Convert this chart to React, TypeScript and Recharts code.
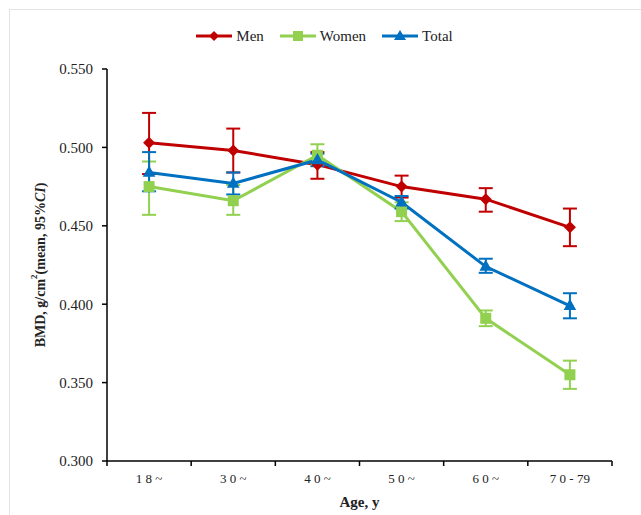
import React from "react";
import { LineChart, Line, XAxis, YAxis, ErrorBar } from "recharts";

const categories = ["18~", "30~", "40~", "50~", "60~", "70-79"];
const tickLabels = ["1 8 ~", "3 0 ~", "4 0 ~", "5 0 ~", "6 0 ~", "7 0 - 79"];

const menMean = [0.503, 0.498, 0.489, 0.475, 0.467, 0.449];
const menLow = [0.483, 0.484, 0.48, 0.468, 0.459, 0.437];
const menHigh = [0.522, 0.512, 0.497, 0.482, 0.474, 0.461];

const womenMean = [0.475, 0.466, 0.495, 0.459, 0.391, 0.355];
const womenLow = [0.457, 0.457, 0.489, 0.453, 0.386, 0.346];
const womenHigh = [0.491, 0.476, 0.502, 0.465, 0.396, 0.364];

const totalMean = [0.484, 0.477, 0.492, 0.465, 0.424, 0.399];
const totalLow = [0.472, 0.47, 0.488, 0.461, 0.42, 0.391];
const totalHigh = [0.497, 0.484, 0.496, 0.469, 0.429, 0.407];

const yTicks = [0.3, 0.35, 0.4, 0.45, 0.5, 0.55];

const MEN = "#C00000";
const WOMEN = "#92D050";
const TOTAL = "#0070C0";
const FONT = "'Liberation Serif', 'Times New Roman', serif";

const CHART_W = 641;
const CHART_H = 515;
const MARGIN = { top: 69, right: 29, bottom: 0, left: 0 };
const Y_AXIS_W = 107;
const BAND = (CHART_W - MARGIN.right - MARGIN.left - Y_AXIS_W) / categories.length;

const data = categories.map((c, i) => ({
  cat: c,
  men: menMean[i],
  menErr: [menMean[i] - menLow[i], menHigh[i] - menMean[i]],
  women: womenMean[i],
  womenErr: [womenMean[i] - womenLow[i], womenHigh[i] - womenMean[i]],
  total: totalMean[i],
  totalErr: [totalMean[i] - totalLow[i], totalHigh[i] - totalMean[i]],
}));

const Diamond = (props: any) => {
  const { cx, cy, index } = props;
  if (cx == null || cy == null) return <g key={`d${index}`} />;
  const r = 6;
  return (
    <path
      key={`d${index}`}
      d={`M${cx},${cy - r}L${cx + r},${cy}L${cx},${cy + r}L${cx - r},${cy}Z`}
      fill={MEN}
    />
  );
};

const Square = (props: any) => {
  const { cx, cy, index } = props;
  if (cx == null || cy == null) return <g key={`s${index}`} />;
  const r = 5.5;
  return <rect key={`s${index}`} x={cx - r} y={cy - r} width={2 * r} height={2 * r} fill={WOMEN} />;
};

const Triangle = (props: any) => {
  const { cx, cy, index } = props;
  if (cx == null || cy == null) return <g key={`t${index}`} />;
  const r = 7;
  return (
    <path
      key={`t${index}`}
      d={`M${cx},${cy - r}L${cx + r * 0.9},${cy + r * 0.6}L${cx - r * 0.9},${cy + r * 0.6}Z`}
      fill={TOTAL}
    />
  );
};

const XTick = (props: any) => {
  const { x, y, payload, index } = props;
  const last = index === categories.length - 1;
  return (
    <g>
      <line x1={x - BAND / 2} x2={x - BAND / 2} y1={y - 5} y2={y} stroke="#000" strokeWidth={1.5} />
      {last && <line x1={x + BAND / 2} x2={x + BAND / 2} y1={y - 5} y2={y} stroke="#000" strokeWidth={1.5} />}
      <text x={x} y={y} dy={17} textAnchor="middle" fontFamily={FONT} fontSize={13} fill="#222">
        {tickLabels[index] ?? payload.value}
      </text>
    </g>
  );
};

const legendItems = [
  { name: "Men", color: MEN, shape: "diamond" },
  { name: "Women", color: WOMEN, shape: "square" },
  { name: "Total", color: TOTAL, shape: "triangle" },
];

const LegendBox = () => (
  <div
    style={{
      position: "absolute",
      left: 0,
      top: 26,
      width: CHART_W,
      display: "flex",
      justifyContent: "center",
      alignItems: "center",
      fontFamily: FONT,
      fontSize: 15,
      color: "#222",
      lineHeight: "20px",
      paddingLeft: 8,
      boxSizing: "border-box",
    }}
  >
    {legendItems.map((it, i) => (
      <div key={it.name} style={{ display: "flex", alignItems: "center", marginLeft: i === 0 ? 0 : 16 }}>
        <svg width={36} height={12} style={{ marginRight: 4 }}>
          <line x1={0} y1={6} x2={36} y2={6} stroke={it.color} strokeWidth={3} />
          {it.shape === "diamond" && <path d="M18,1L23,6L18,11L13,6Z" fill={it.color} />}
          {it.shape === "square" && <rect x={13} y={1} width={10} height={10} fill={it.color} />}
          {it.shape === "triangle" && <path d="M18,0L24,10L12,10Z" fill={it.color} />}
        </svg>
        <span>{it.name}</span>
      </div>
    ))}
  </div>
);

export default function App() {
  return (
    <div style={{ position: "absolute", left: 0, top: 0, width: CHART_W, height: CHART_H, background: "#fff", overflow: "hidden" }}>
      <div
        style={{
          position: "absolute",
          left: 9,
          top: 9,
          width: 640,
          height: 515,
          borderLeft: "1px solid #e4e4e4",
          borderTop: "1px solid #e4e4e4",
        }}
      />
      <LineChart
        width={CHART_W}
        height={CHART_H}
        data={data}
        margin={MARGIN}
        style={{ position: "absolute", left: 0, top: 0 }}
      >
        <XAxis
          dataKey="cat"
          scale="band"
          height={54}
          axisLine={{ stroke: "#000", strokeWidth: 1.5 }}
          tickLine={false}
          tickSize={5}
          tickMargin={0}
          tick={<XTick />}
          interval={0}
          label={{
            value: "Age, y",
            position: "insideBottom",
            offset: 8,
            fontFamily: FONT,
            fontSize: 15,
            fontWeight: "bold",
            fill: "#222",
          }}
        />
        <YAxis
          width={Y_AXIS_W}
          domain={[0.3, 0.55]}
          ticks={yTicks}
          interval={0}
          tickFormatter={(v: number) => v.toFixed(3)}
          axisLine={{ stroke: "#000", strokeWidth: 1.5 }}
          tickLine={{ stroke: "#000", strokeWidth: 1.5 }}
          tickSize={5}
          tickMargin={9}
          tick={{ fontFamily: FONT, fontSize: 15, fill: "#222" }}
          label={(props: any) => {
            const vb = props.viewBox || {};
            const cx = 40;
            const cy = (vb.y ?? 69) + (vb.height ?? 392) / 2;
            return (
              <text
                x={cx}
                y={cy}
                transform={`rotate(-90 ${cx} ${cy})`}
                textAnchor="middle"
                dominantBaseline="central"
                fontFamily={FONT}
                fontSize={14}
                fontWeight="bold"
                fill="#222"
              >
                <tspan>BMD, g/cm</tspan>
                <tspan fontSize={9} dy={-6}>2</tspan>
                <tspan dy={6}>(mean, 95%</tspan>
                <tspan fontStyle="italic">CI</tspan>
                <tspan>)</tspan>
              </text>
            );
          }}
        />
        <Line dataKey="men" stroke={MEN} strokeWidth={3} dot={Diamond} activeDot={false} isAnimationActive={false}>
          <ErrorBar dataKey="menErr" width={7} stroke={MEN} strokeWidth={2} />
        </Line>
        <Line dataKey="women" stroke={WOMEN} strokeWidth={3} dot={Square} activeDot={false} isAnimationActive={false}>
          <ErrorBar dataKey="womenErr" width={7} stroke={WOMEN} strokeWidth={2} />
        </Line>
        <Line dataKey="total" stroke={TOTAL} strokeWidth={3} dot={Triangle} activeDot={false} isAnimationActive={false}>
          <ErrorBar dataKey="totalErr" width={7} stroke={TOTAL} strokeWidth={2} />
        </Line>
      </LineChart>
      <LegendBox />
    </div>
  );
}
